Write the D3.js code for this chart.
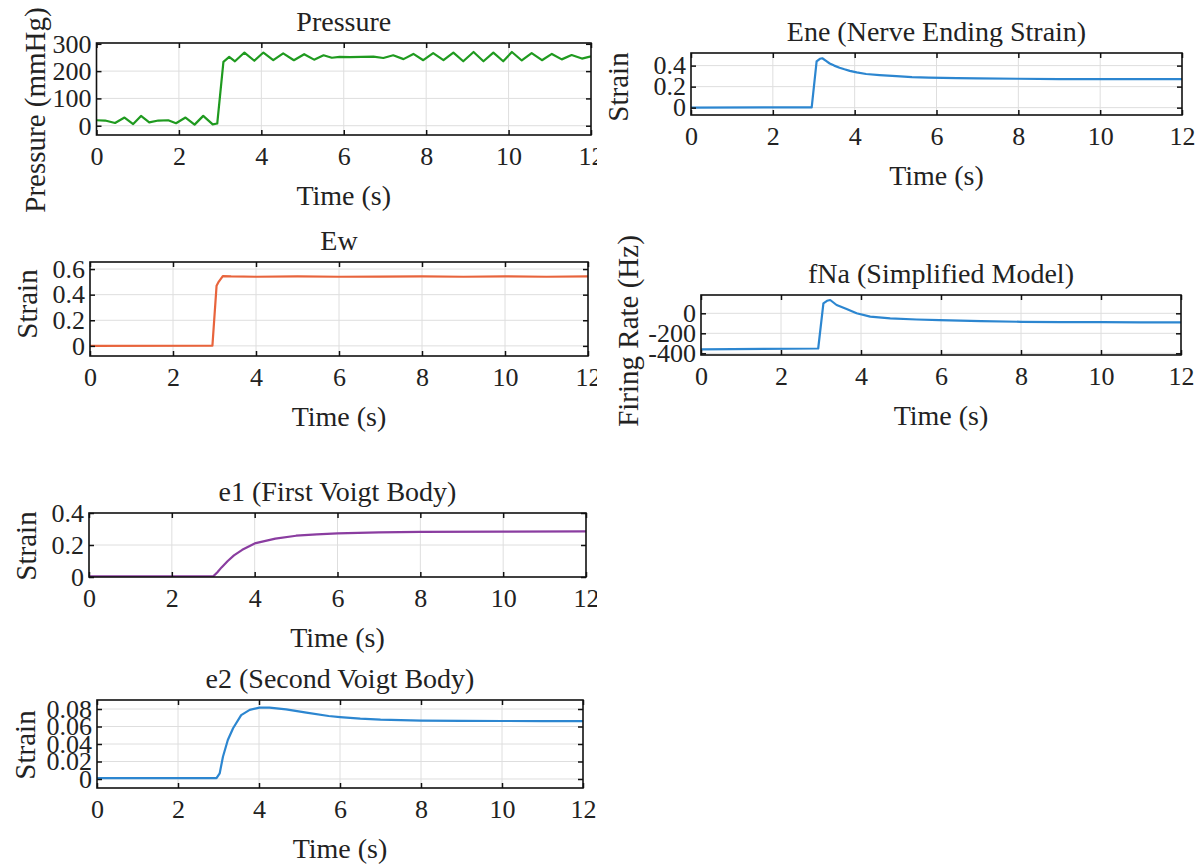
<!DOCTYPE html>
<html>
<head>
<meta charset="utf-8">
<script src="https://cdn.jsdelivr.net/npm/d3@7"></script>
<style>
  html, body { margin: 0; padding: 0; background: #fff; }
  svg { display: block; }
  svg text { font-family: "Liberation Serif", "Times New Roman", serif !important; fill: #222; }
</style>
</head>
<body>
<svg id="fig" width="1203" height="865"></svg>
<script>
// ---- data (time in seconds) ----
const xTicks = [0, 2, 4, 6, 8, 10, 12];

const pressureTime = [0, 0.21, 0.45, 0.68, 0.89, 1.08, 1.28, 1.5, 1.74, 1.93, 2.16, 2.38, 2.59, 2.82, 2.93,
  3.08, 3.22, 3.36, 3.59, 3.83, 4.05, 4.29, 4.53, 4.79, 5.04, 5.28, 5.51, 5.71, 5.9, 6.15, 6.72, 6.96,
  7.2, 7.45, 7.69, 7.93, 8.17, 8.42, 8.66, 8.9, 9.15, 9.39, 9.63, 9.87, 10.08, 10.32, 10.56, 10.81,
  11.05, 11.29, 11.53, 11.78, 12];
const pressureValues = [20, 19, 10, 30, 6, 36, 12, 19, 20, 9, 30, 4, 36, 5, 8,
  234, 252, 236, 268, 238, 268, 240, 265, 240, 262, 242, 258, 249, 252, 251, 253, 248,
  258, 244, 263, 240, 266, 240, 268, 236, 270, 236, 268, 236, 270, 239, 266, 240,
  263, 243, 259, 246, 254];
const pressureTicks = [0, 100, 200, 300];

const eneTime = [0, 2.95, 3.07, 3.15, 3.21, 3.3, 3.39, 3.5, 3.63, 3.75, 3.88, 4.05, 4.28, 4.61, 5.02,
  5.4, 5.81, 6.5, 7, 8, 9, 10, 11, 12];
const eneValues = [0.0, 0.003, 0.44, 0.465, 0.47, 0.445, 0.42, 0.40, 0.38, 0.365, 0.35, 0.335, 0.32,
  0.31, 0.30, 0.29, 0.285, 0.28, 0.278, 0.275, 0.272, 0.272, 0.271, 0.272];
const eneTicks = [0, 0.2, 0.4];

const ewTime = [0, 2.95, 3.05, 3.1, 3.2, 3.4, 4, 5, 6, 7, 8, 9, 10, 11, 12];
const ewValues = [0, 0.002, 0.47, 0.5, 0.545, 0.542, 0.54, 0.542, 0.54, 0.541, 0.543, 0.54, 0.543, 0.54, 0.542];
const ewTicks = [0, 0.2, 0.4, 0.6];

const fnaTime = [0, 2.93, 3.06, 3.15, 3.23, 3.39, 3.64, 3.89, 4.23, 4.73, 5.39, 5.96, 7, 8, 9, 10, 11, 12];
const fnaValues = [-360, -352, 100, 125, 133, 83, 43, 0, -33, -50, -62, -68, -78, -85, -88, -88, -90, -90];
const fnaTicks = [-400, -200, 0];

const e1Time = [0, 3.0, 3.1, 3.2, 3.35, 3.5, 3.7, 4, 4.5, 5, 5.5, 6, 7, 8, 10, 12];
const e1Values = [0.004, 0.004, 0.03, 0.06, 0.1, 0.135, 0.17, 0.21, 0.24, 0.258, 0.267, 0.273, 0.279,
  0.282, 0.284, 0.285];
const e1Ticks = [0, 0.2, 0.4];

const e2Time = [0, 2.95, 3.03, 3.11, 3.23, 3.36, 3.56, 3.77, 4.01, 4.26, 4.67, 5.17, 5.72, 6, 6.5, 7,
  7.5, 8, 9, 10, 11, 12];
const e2Values = [0.001, 0.001, 0.0065, 0.0255, 0.0446, 0.058, 0.073, 0.079, 0.0815, 0.0815, 0.0796,
  0.0758, 0.072, 0.0708, 0.069, 0.0678, 0.0672, 0.0668, 0.0665, 0.0663, 0.0662, 0.0662];
const e2Ticks = [0, 0.02, 0.04, 0.06, 0.08];

// ---- layout of the six axes ----
const panels = [
  { col: 0, title: "Pressure", ylabel: "Pressure (mmHg)", t: pressureTime, v: pressureValues,
    yTicks: pressureTicks, yDomain: [-34, 303], color: "#1f9a1f",
    box: { left: 96.5, right: 591, top: 43, bottom: 135 }, ylab: { x: 35, y: 110 } },
  { col: 1, title: "Ene (Nerve Ending Strain)", ylabel: "Strain", t: eneTime, v: eneValues,
    yTicks: eneTicks, yDomain: [-0.07, 0.52], color: "#2c86d0",
    box: { left: 691, right: 1182, top: 53, bottom: 115 }, ylab: { x: 618, y: 87 } },
  { col: 0, title: "Ew", ylabel: "Strain", t: ewTime, v: ewValues,
    yTicks: ewTicks, yDomain: [-0.079, 0.655], color: "#e8643c",
    box: { left: 90, right: 588, top: 262, bottom: 356 }, ylab: { x: 27, y: 304 } },
  { col: 1, title: "fNa (Simplified Model)", ylabel: "Firing Rate (Hz)", t: fnaTime, v: fnaValues,
    yTicks: fnaTicks, yDomain: [-417, 183], color: "#2c86d0",
    box: { left: 701, right: 1181, top: 295, bottom: 355 }, ylab: { x: 628, y: 331 } },
  { col: 0, title: "e1 (First Voigt Body)", ylabel: "Strain", t: e1Time, v: e1Values,
    yTicks: e1Ticks, yDomain: [0, 0.4], color: "#8a3da0",
    box: { left: 89, right: 586, top: 513, bottom: 577 }, ylab: { x: 26, y: 546 } },
  { col: 0, title: "e2 (Second Voigt Body)", ylabel: "Strain", t: e2Time, v: e2Values,
    yTicks: e2Ticks, yDomain: [-0.0103, 0.0903], color: "#2c86d0",
    box: { left: 97, right: 583, top: 700, bottom: 788 }, ylab: { x: 25, y: 745 } }
];

const svg = d3.select("#fig");
const defs = svg.append("defs");
defs.append("clipPath").attr("id", "leftCol")
  .append("rect").attr("x", 0).attr("y", 0).attr("width", 597).attr("height", 865);

const leftCol = svg.append("g").attr("clip-path", "url(#leftCol)");
const rightCol = svg.append("g");

const tickFont = 26, labelFont = 28;

panels.forEach((p, i) => {
  const host = p.col === 0 ? leftCol : rightCol;
  const b = p.box;
  const w = b.right - b.left, h = b.bottom - b.top;
  const x = d3.scaleLinear().domain([0, 12]).range([0, w]);
  const y = d3.scaleLinear().domain(p.yDomain).range([h, 0]);
  const g = host.append("g").attr("transform", `translate(${b.left},${b.top})`);

  // grid
  g.append("g").selectAll("line").data(xTicks.filter(d => d > 0 && d < 12)).join("line")
    .attr("x1", d => x(d)).attr("x2", d => x(d)).attr("y1", 0).attr("y2", h)
    .attr("stroke", "#dedede").attr("stroke-width", 1);
  g.append("g").selectAll("line").data(p.yTicks.filter(d => y(d) > 1 && y(d) < h - 1)).join("line")
    .attr("x1", 0).attr("x2", w).attr("y1", d => y(d)).attr("y2", d => y(d))
    .attr("stroke", "#dedede").attr("stroke-width", 1);

  // series
  const clipId = "plot" + i;
  defs.append("clipPath").attr("id", clipId).append("rect")
    .attr("x", 0).attr("y", 0).attr("width", w).attr("height", h);
  const pts = p.t.map((t, k) => [t, p.v[k]]);
  g.append("path").datum(pts)
    .attr("clip-path", `url(#${clipId})`)
    .attr("fill", "none").attr("stroke", p.color).attr("stroke-width", 2.2)
    .attr("stroke-linejoin", "round")
    .attr("d", d3.line().x(d => x(d[0])).y(d => y(d[1])));

  // axes with inward ticks on all four sides
  const styleAxis = sel => {
    sel.attr("font-family", null).attr("font-size", null);
    sel.select(".domain").remove();
    sel.selectAll(".tick line").attr("stroke", "#111").attr("stroke-width", 1.5);
    sel.selectAll("text").style("font-size", tickFont + "px").attr("fill", "#222");
  };
  g.append("g").attr("transform", `translate(0,${h})`)
    .call(d3.axisBottom(x).tickValues(xTicks).tickSize(-5).tickPadding(12).tickFormat(d3.format("d")))
    .call(styleAxis);
  g.append("g")
    .call(d3.axisTop(x).tickValues(xTicks).tickSize(-5).tickFormat(""))
    .call(styleAxis);
  g.append("g")
    .call(d3.axisLeft(y).tickValues(p.yTicks).tickSize(-5).tickPadding(5).tickFormat(d => String(d)))
    .call(styleAxis);
  g.append("g").attr("transform", `translate(${w},0)`)
    .call(d3.axisRight(y).tickValues(p.yTicks).tickSize(-5).tickFormat(""))
    .call(styleAxis);

  // frame
  g.append("rect").attr("x", 0).attr("y", 0).attr("width", w).attr("height", h)
    .attr("fill", "none").attr("stroke", "#111").attr("stroke-width", 1.6);

  // title and labels
  g.append("text").attr("x", w / 2).attr("y", -12).attr("text-anchor", "middle")
    .style("font-size", labelFont + "px").text(p.title);
  g.append("text").attr("x", w / 2).attr("y", h + 70).attr("text-anchor", "middle")
    .style("font-size", labelFont + "px").text("Time (s)");
  host.append("text")
    .attr("transform", `translate(${p.ylab.x},${p.ylab.y}) rotate(-90)`)
    .attr("text-anchor", "middle").attr("dominant-baseline", "central")
    .style("font-size", "29px").text(p.ylabel);
});
</script>
</body>
</html>
